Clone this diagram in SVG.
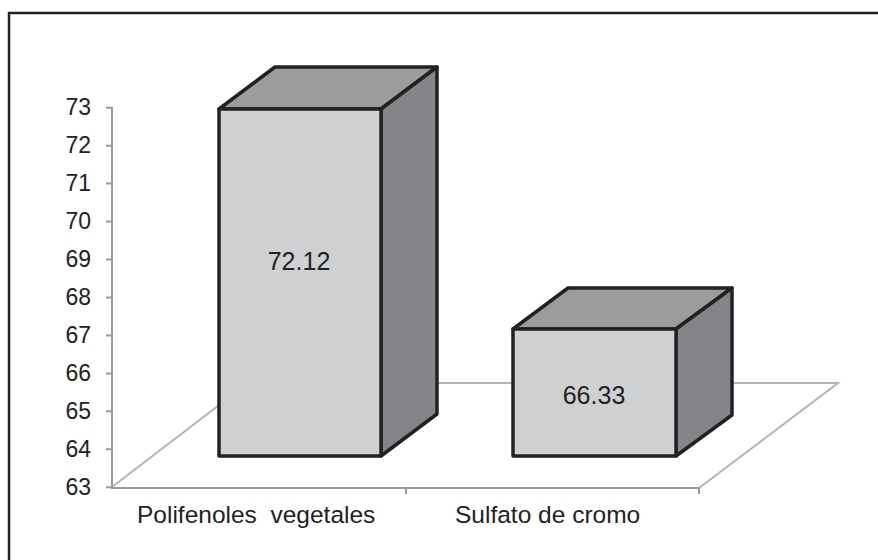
<svg xmlns="http://www.w3.org/2000/svg" width="878" height="560" viewBox="0 0 878 560">
<style>
.ax{stroke:#9a9a9a;stroke-width:2;fill:none}
.fl{stroke:#b4b4b4;stroke-width:2;fill:none}
.front{fill:#cfd0d2;stroke:#222;stroke-width:3.5;stroke-linejoin:round}
.top{fill:#9b9c9e;stroke:#222;stroke-width:3.5;stroke-linejoin:round}
.side{fill:#848589;stroke:#222;stroke-width:3.5;stroke-linejoin:round}
.yl{font-family:"Liberation Sans",Arial,sans-serif;font-size:23px;fill:#222;text-anchor:end}
.cl{font-family:"Liberation Sans",Arial,sans-serif;font-size:24.5px;fill:#222}
.vl{font-family:"Liberation Sans",Arial,sans-serif;font-size:25px;fill:#222;text-anchor:middle}
</style>
<rect width="878" height="560" fill="#fff"/>
<path d="M9,560 V13 H878" fill="none" stroke="#222" stroke-width="2.5"/>
<g id="floor">
<path class="fl" d="M112,487 L248,383 H838 L699,488"/>
</g>
<g id="axes">
<path class="ax" d="M112,107 V488 H699"/>
<path class="ax" d="M106,107.7H112M106,145.7H112M106,183.6H112M106,221.6H112M106,259.5H112M106,297.5H112M106,335.4H112M106,373.4H112M106,411.3H112M106,449.3H112M106,487.2H112M406,488V494M699,488V494"/>
<text class="yl" x="91" y="115">73</text>
<text class="yl" x="91" y="153">72</text>
<text class="yl" x="91" y="190.9">71</text>
<text class="yl" x="91" y="228.9">70</text>
<text class="yl" x="91" y="266.8">69</text>
<text class="yl" x="91" y="304.8">68</text>
<text class="yl" x="91" y="342.7">67</text>
<text class="yl" x="91" y="380.7">66</text>
<text class="yl" x="91" y="418.6">65</text>
<text class="yl" x="91" y="456.6">64</text>
<text class="yl" x="91" y="494.5">63</text>
</g>
<g id="bar1">
<polygon class="top" points="219,109 275,67 437,67 381,109"/>
<polygon class="side" points="381,109 437,67 437,414 381,456"/>
<rect class="front" x="219" y="109" width="162" height="347"/>
<text class="vl" x="299" y="270">72.12</text>
</g>
<g id="bar2">
<polygon class="top" points="513,329 568,288 732,288 676,329"/>
<polygon class="side" points="676,329 732,288 732,415 676,456"/>
<rect class="front" x="513" y="329" width="163" height="127"/>
<text class="vl" x="594" y="404">66.33</text>
</g>
<g id="labels">
<text class="cl" x="137" y="523" xml:space="preserve">Polifenoles  vegetales</text>
<text class="cl" x="455" y="523">Sulfato de cromo</text>
</g>
</svg>
